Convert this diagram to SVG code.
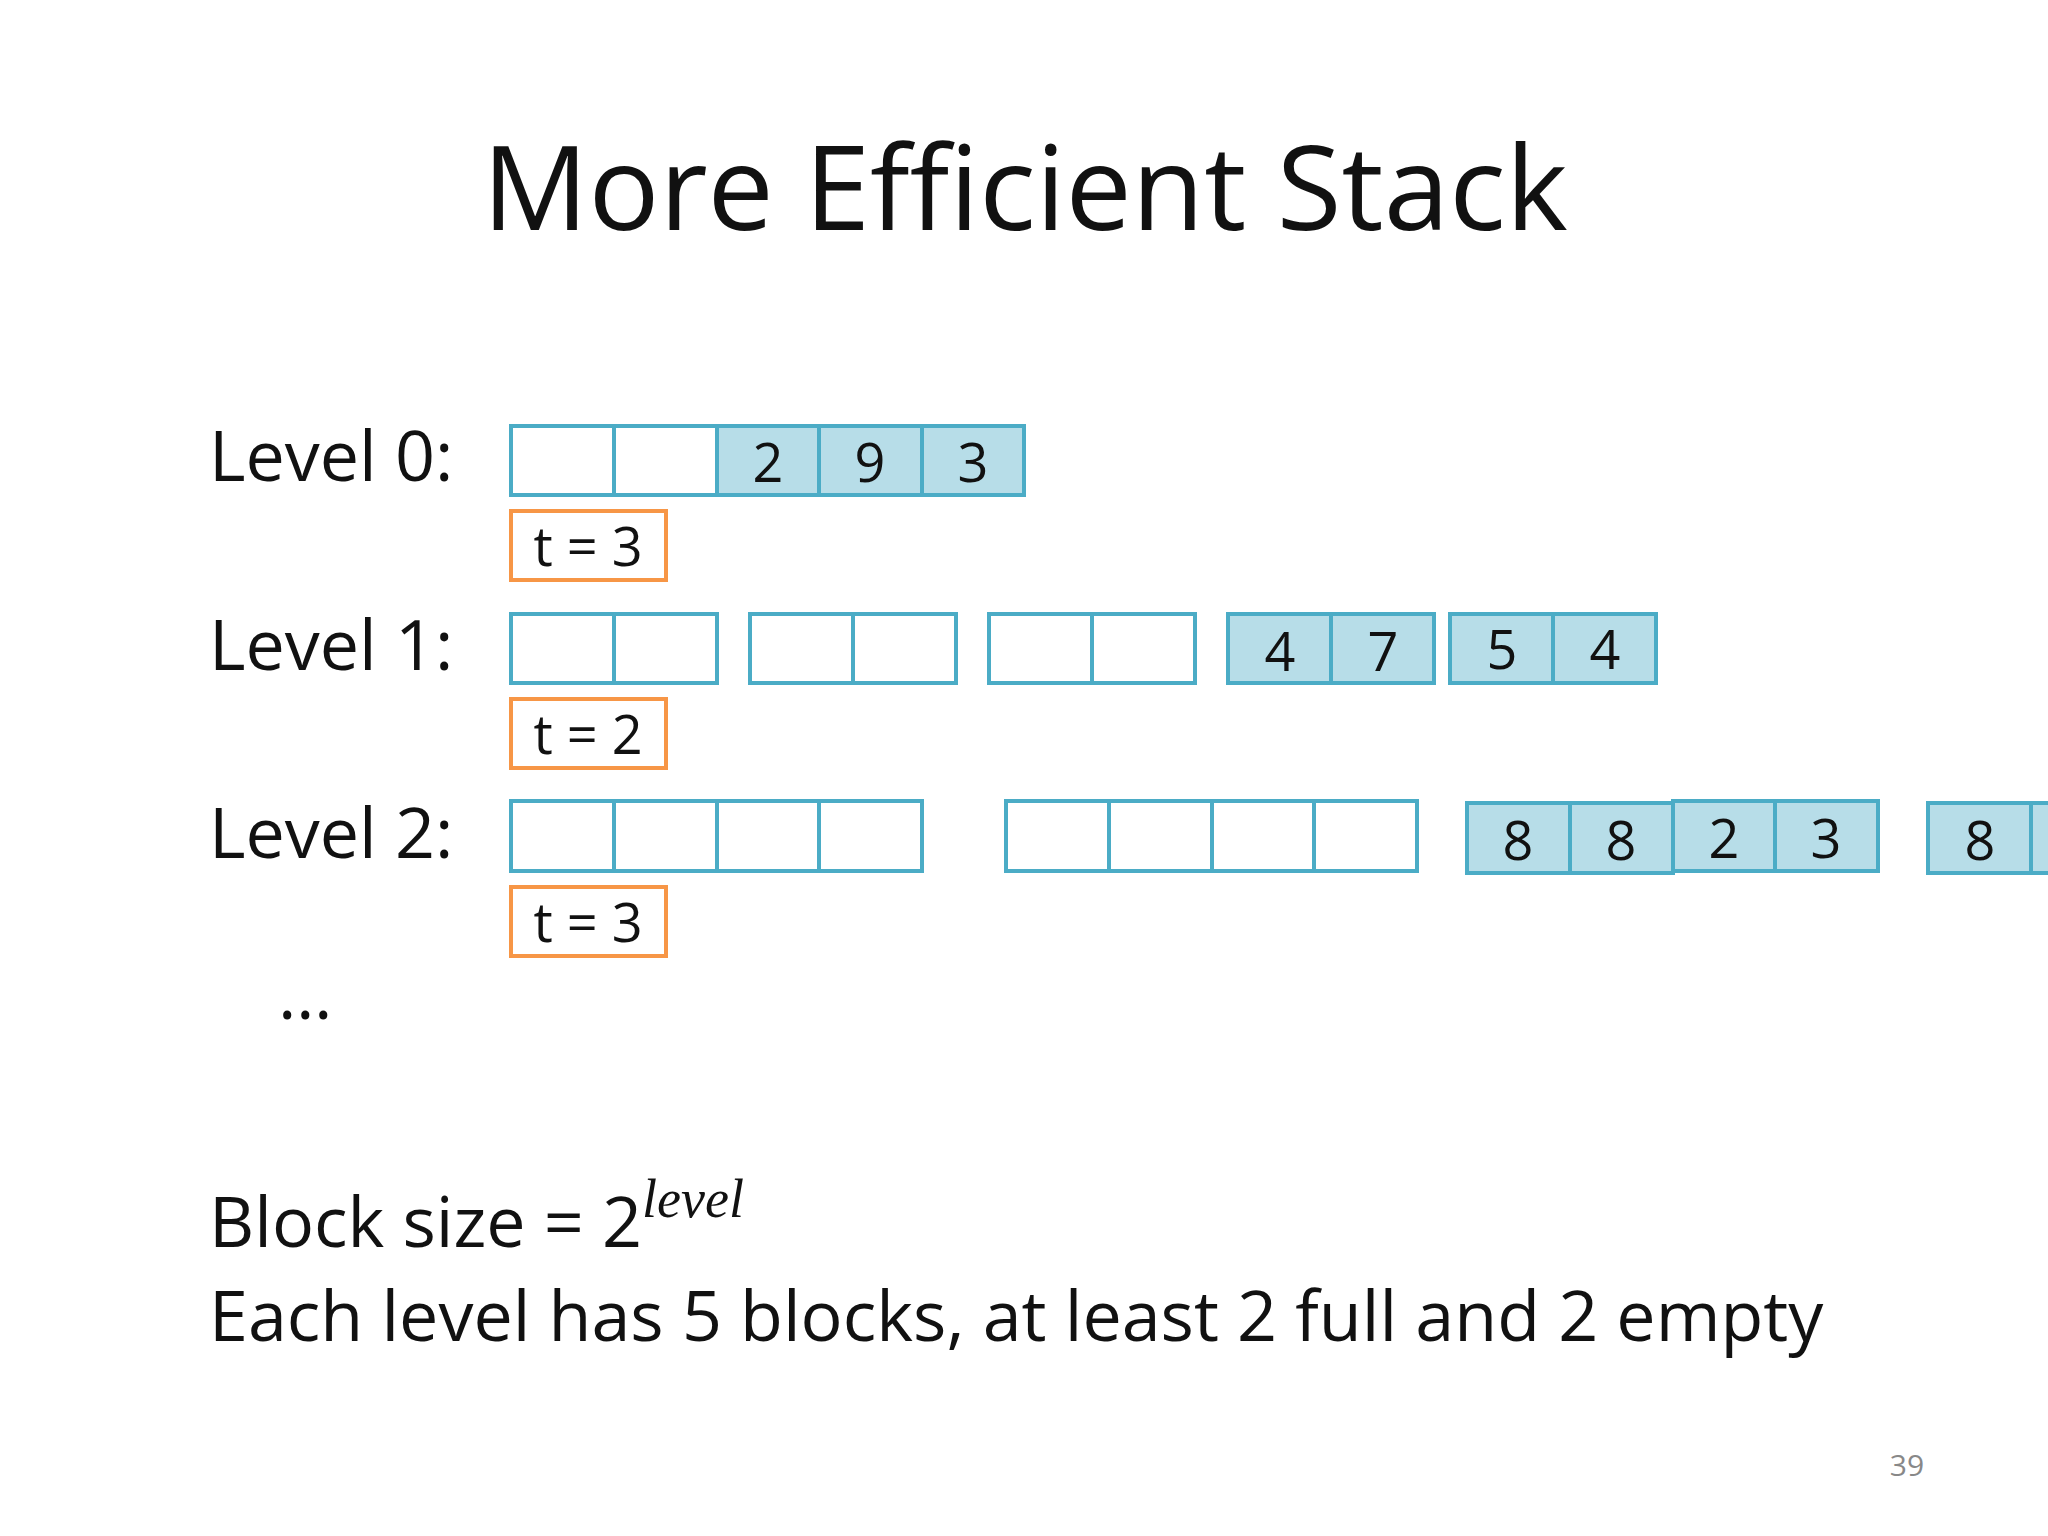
<svg xmlns="http://www.w3.org/2000/svg" width="2048" height="1536" viewBox="0 0 2048 1536">
<style>
text{font-family:"Open Sans","Liberation Sans",sans-serif;fill:#111}
.c{fill:#fff;stroke:#4bacc6;stroke-width:4}
.f{fill:#b7dde8;stroke:#4bacc6;stroke-width:4}
.t{fill:#fff;stroke:#f79646;stroke-width:4}
.d{font-size:54px;text-anchor:middle}
.l{font-size:70px}
</style>
<rect width="2048" height="1536" fill="#fff"/>
<text x="1025" y="230" font-size="118" text-anchor="middle">More Efficient Stack</text>
<g id="labels">
<text class="l" x="209" y="481">Level 0:</text>
<text class="l" x="209" y="670">Level 1:</text>
<text class="l" x="209" y="858">Level 2:</text>
<text class="l" x="278" y="1019">…</text>
</g>
<g id="level0">
<rect class="c" x="511" y="426" width="103" height="69"/>
<rect class="c" x="614" y="426" width="103" height="69"/>
<rect class="f" x="717" y="426" width="102" height="69"/>
<rect class="f" x="819" y="426" width="103" height="69"/>
<rect class="f" x="922" y="426" width="102" height="69"/>
<text class="d" x="768" y="482">2</text><text class="d" x="870" y="482">9</text><text class="d" x="973" y="482">3</text>
<rect class="t" x="511" y="511" width="155" height="69"/>
<text class="d" x="588" y="566">t = 3</text>
</g>
<g id="level1">
<rect class="c" x="511" y="614" width="103" height="69"/><rect class="c" x="614" y="614" width="103" height="69"/>
<rect class="c" x="750" y="614" width="103" height="69"/><rect class="c" x="853" y="614" width="103" height="69"/>
<rect class="c" x="989" y="614" width="103" height="69"/><rect class="c" x="1092" y="614" width="103" height="69"/>
<rect class="f" x="1228" y="614" width="103" height="69"/><rect class="f" x="1331" y="614" width="103" height="69"/>
<rect class="f" x="1450" y="614" width="103" height="69"/><rect class="f" x="1553" y="614" width="103" height="69"/>
<text class="d" x="1280" y="671">4</text><text class="d" x="1383" y="671">7</text>
<text class="d" x="1502" y="669">5</text><text class="d" x="1605" y="669">4</text>
<rect class="t" x="511" y="699" width="155" height="69"/>
<text class="d" x="588" y="754">t = 2</text>
</g>
<g id="level2">
<rect class="c" x="511" y="801" width="103" height="70"/><rect class="c" x="614" y="801" width="103" height="70"/>
<rect class="c" x="717" y="801" width="102" height="70"/><rect class="c" x="819" y="801" width="103" height="70"/>
<rect class="c" x="1006" y="801" width="103" height="70"/><rect class="c" x="1109" y="801" width="103" height="70"/>
<rect class="c" x="1212" y="801" width="102" height="70"/><rect class="c" x="1314" y="801" width="103" height="70"/>
<rect class="f" x="1467" y="803" width="103" height="70"/><rect class="f" x="1570" y="803" width="103" height="70"/>
<rect class="f" x="1673" y="801" width="102" height="70"/><rect class="f" x="1775" y="801" width="103" height="70"/>
<rect class="f" x="1928" y="803" width="103" height="70"/><rect class="f" x="2031" y="803" width="103" height="70"/>
<text class="d" x="1518" y="860">8</text><text class="d" x="1621" y="860">8</text>
<text class="d" x="1724" y="858">2</text><text class="d" x="1826" y="858">3</text>
<text class="d" x="1980" y="860">8</text>
<rect class="t" x="511" y="887" width="155" height="69"/>
<text class="d" x="588" y="942">t = 3</text>
</g>
<text class="l" x="209" y="1247">Block size = 2<tspan font-family="Liberation Serif,serif" font-style="italic" font-size="54" dy="-30">level</tspan></text>
<text class="l" x="209" y="1341">Each level has 5 blocks, at least 2 full and 2 empty</text>
<text x="1907" y="1476" font-size="30" text-anchor="middle" style="fill:#888">39</text>
</svg>
